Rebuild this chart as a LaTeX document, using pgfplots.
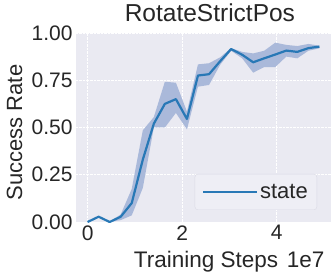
\documentclass[border=0pt]{standalone}
\usepackage{pgfplots}
\pgfplotsset{compat=1.18}
\usepgfplotslibrary{fillbetween}
\usepackage{pgfplotstable}
\usepackage{fontspec}
\setmainfont{Liberation Sans}
\definecolor{bg}{RGB}{234,234,242}
\definecolor{lineblue}{RGB}{40,120,182}
\definecolor{band}{RGB}{170,185,218}
\definecolor{legfill}{RGB}{238,238,245}
\definecolor{legdraw}{RGB}{218,218,228}
\definecolor{txt}{RGB}{38,38,38}
\pgfplotstableread{
x mean lo hi
0.000 0.000 0.000 0.000
0.233 0.028 0.026 0.030
0.467 0.000 0.000 0.002
0.700 0.028 0.010 0.040
0.933 0.100 0.035 0.175
1.167 0.330 0.180 0.485
1.400 0.520 0.500 0.555
1.633 0.625 0.500 0.742
1.867 0.650 0.577 0.737
2.100 0.545 0.490 0.584
2.333 0.775 0.716 0.834
2.567 0.782 0.725 0.840
2.800 0.850 0.831 0.871
3.033 0.915 0.906 0.920
3.267 0.885 0.866 0.900
3.500 0.845 0.790 0.892
3.733 0.866 0.820 0.906
3.967 0.886 0.820 0.949
4.200 0.907 0.875 0.937
4.433 0.900 0.866 0.931
4.667 0.920 0.906 0.942
4.900 0.928 0.919 0.933
}\data
\begin{document}
\begin{tikzpicture}
\begin{axis}[
  at={(0,0)}, anchor=south west,
  scale only axis, width=255pt, height=189pt,
  xmin=-0.245, xmax=5.145, ymin=0, ymax=1,
  axis background/.style={fill=bg},
  axis line style={draw=none},
  grid=major,
  major grid style={white, line width=0.8pt, dash pattern=on 2.5pt off 1pt},
  tick style={draw=none},
  xtick={0,2,4}, ytick={0,0.25,0.5,0.75,1},
  tick label style={font=\fontsize{21}{25}\selectfont, text=txt},
  xticklabel style={/pgf/number format/assume math mode=true},
  yticklabel style={/pgf/number format/.cd, fixed, fixed zerofill, precision=2, assume math mode=true},
  legend style={at={(rel axis cs:1,0)}, anchor=south east, xshift=-14pt, yshift=12pt,
    fill=legfill, draw=legdraw, rounded corners=3pt, text=txt,
    font=\fontsize{22}{26}\selectfont, inner xsep=7pt, inner ysep=8pt},
  legend image code/.code={\draw[#1, line width=2.2pt] (0pt,0pt) -- (48pt,0pt); \path (0pt,0pt) -- (54pt,0pt);},
  legend cell align=left,
  clip=false,
]
\addplot[draw=none, forget plot, name path=A] table[x=x, y=hi] {\data};
\addplot[draw=none, forget plot, name path=B] table[x=x, y=lo] {\data};
\addplot[fill=band, draw=none, forget plot] fill between[of=A and B];
\addplot[lineblue, line width=2.2pt, line join=round] table[x=x, y=mean] {\data};
\addlegendentry{state}
\node[anchor=base, font=\fontsize{24.5}{29}\selectfont, text=txt] at (rel axis cs:0.525,1) [yshift=11pt] {RotateStrictPos};
\node[anchor=base, font=\fontsize{22.5}{27}\selectfont, text=txt] at (rel axis cs:0.51,0) [yshift=-46pt] {Training Steps};
\node[anchor=base east, font=\fontsize{22.5}{27}\selectfont, text=txt] at (rel axis cs:1,0) [yshift=-46pt, xshift=-3pt] {1e7};
\node[anchor=base, rotate=90, font=\fontsize{22}{26}\selectfont, text=txt] at ([xshift=-54pt, yshift=-5pt]rel axis cs:0,0.5) {Success Rate};
\end{axis}
\pgfresetboundingbox
\useasboundingbox (-76pt,-53pt) rectangle (256pt,222pt);
\end{tikzpicture}
\end{document}
